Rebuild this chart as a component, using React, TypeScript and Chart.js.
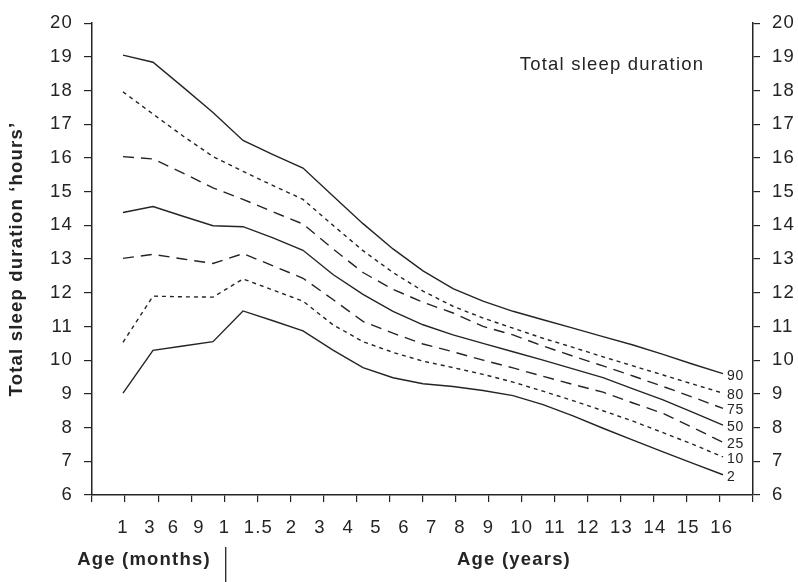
import React, { useEffect, useRef } from 'react';
import { Chart, registerables } from 'chart.js';

Chart.register(...registerables);

// Age categories (one data point per category)
const ageCategories = [
  '1 month', '3 months', '6 months', '9 months', '1 year', '1.5 years', '2 years',
  '3 years', '4 years', '5 years', '6 years', '7 years', '8 years', '9 years',
  '10 years', '11 years', '12 years', '13 years', '14 years', '15 years', '16 years',
];

// Labels printed under the age axis
const tickLabels = [
  '1', '3', '6', '9', '1', '1.5', '2', '3', '4', '5', '6', '7', '8', '9',
  '10', '11', '12', '13', '14', '15', '16',
];

const hourTicks = [6, 7, 8, 9, 10, 11, 12, 13, 14, 15, 16, 17, 18, 19, 20];

// Total sleep duration percentiles (hours)
const p90 = [19.05, 18.84, 18.1, 17.35, 16.52, 16.1, 15.7, 14.87, 14.05, 13.3, 12.65, 12.12, 11.75, 11.45, 11.2, 10.95, 10.7, 10.45, 10.17, 9.88, 9.6];
const p80 = [17.96, 17.3, 16.65, 16.04, 15.6, 15.18, 14.77, 14.0, 13.25, 12.6, 12.05, 11.6, 11.25, 10.95, 10.65, 10.38, 10.1, 9.83, 9.56, 9.29, 9.02];
const p75 = [16.04, 15.97, 15.55, 15.11, 14.77, 14.4, 14.04, 13.3, 12.6, 12.1, 11.72, 11.4, 11.0, 10.75, 10.42, 10.12, 9.83, 9.53, 9.22, 8.9, 8.57];
const p50 = [14.38, 14.56, 14.27, 13.99, 13.96, 13.63, 13.26, 12.54, 11.95, 11.45, 11.05, 10.75, 10.5, 10.25, 10.0, 9.74, 9.48, 9.15, 8.82, 8.45, 8.07];
const p25 = [13.02, 13.14, 13.0, 12.87, 13.16, 12.8, 12.43, 11.8, 11.15, 10.8, 10.48, 10.25, 10.0, 9.77, 9.52, 9.28, 9.05, 8.73, 8.42, 8.0, 7.56];
const p10 = [10.53, 11.9, 11.88, 11.87, 12.41, 12.08, 11.75, 11.05, 10.55, 10.23, 9.97, 9.78, 9.58, 9.35, 9.08, 8.8, 8.5, 8.19, 7.85, 7.5, 7.13];
const p2 = [9.02, 10.29, 10.42, 10.55, 11.46, 11.17, 10.87, 10.3, 9.78, 9.48, 9.3, 9.22, 9.1, 8.95, 8.68, 8.35, 7.98, 7.63, 7.28, 6.94, 6.6];

const percentileNames = ['90', '80', '75', '50', '25', '10', '2'];
const percentileSeries = [p90, p80, p75, p50, p25, p10, p2];

// ---- layout / style ----
const INK = '#242424';
const FONT = "'Liberation Sans', Arial, Helvetica, sans-serif";
const AXIS_MIN = -31 / 30;
const AXIS_MAX = 21;
const TICK_MARK_COUNT = 21;
const tickMarkSlots = Array.from(
  { length: TICK_MARK_COUNT },
  (_, k) => AXIS_MIN + (k * (AXIS_MAX - AXIS_MIN)) / (TICK_MARK_COUNT - 1)
);
// where each printed age label sits along the axis (in category units)
const labelSlots = [0, 0.9, 1.68, 2.53, 3.38, 4.51, 5.62, 6.57, 7.51, 8.43, 9.37, 10.29, 11.23, 12.18, 13.29, 14.4, 15.51, 16.62, 17.73, 18.84, 19.96];
const lineDashes = [[], [4, 4], [11, 7], [], [11, 7], [4, 4], []];

const annotationPlugin = {
  id: 'sleepAnnotations',
  beforeDraw(chart: any) {
    (chart.ctx as any).letterSpacing = '1.2px';
  },
  afterDraw(chart: any) {
    const { ctx, chartArea } = chart;
    ctx.save();
    ctx.fillStyle = INK;
    ctx.strokeStyle = INK;

    // percentile names at the end of each curve
    (ctx as any).letterSpacing = '0.6px';
    ctx.font = `14px ${FONT}`;
    ctx.textAlign = 'left';
    ctx.textBaseline = 'middle';
    chart.data.datasets.forEach((_: any, i: number) => {
      const meta = chart.getDatasetMeta(i);
      const last = meta.data[meta.data.length - 1];
      ctx.fillText(percentileNames[i], last.x + 4, last.y + 2);
    });

    // chart heading inside the plot
    (ctx as any).letterSpacing = '1.2px';
    ctx.font = `18.5px ${FONT}`;
    ctx.textAlign = 'center';
    ctx.fillText('Total sleep duration', chartArea.right - 141, chartArea.top + 42);

    // age unit captions and divider
    const xScale = chart.scales.x;
    const divider = xScale.getPixelForValue(tickMarkSlots[4]) + 1.5;
    ctx.font = `bold 18.5px ${FONT}`;
    ctx.fillText('Age (months)', chartArea.left + 52, chartArea.bottom + 65);
    ctx.fillText('Age (years)', chartArea.left + 422, chartArea.bottom + 65);
    ctx.lineWidth = 1.3;
    ctx.beginPath();
    ctx.moveTo(divider, chartArea.bottom + 52);
    ctx.lineTo(divider, chart.height);
    ctx.stroke();
    ctx.restore();
    (ctx as any).letterSpacing = '0px';
  },
};

export default function App() {
  const canvasRef = useRef<HTMLCanvasElement | null>(null);

  useEffect(() => {
    if (!canvasRef.current) return;

    const datasets = percentileSeries.map((series, i) => ({
      label: `P${percentileNames[i]}`,
      data: series.map((v, idx) => ({ x: idx, y: v, age: ageCategories[idx] })),
      borderColor: INK,
      borderWidth: 1.4,
      borderDash: lineDashes[i],
      borderCapStyle: 'butt' as const,
      pointRadius: 0,
      fill: false,
      tension: 0,
      xAxisID: 'x',
      yAxisID: 'y',
    }));

    const tickFont = { family: FONT, size: 18.5 };
    const yAxisBase = {
      type: 'linear' as const,
      min: 6,
      max: 20,
      afterBuildTicks: (s: any) => {
        s.ticks = hourTicks.map((v) => ({ value: v }));
      },
      grid: { display: true, drawOnChartArea: false, drawTicks: true, color: INK, lineWidth: 1.2 },
      border: { display: true, color: INK, width: 1.5 },
    };

    const chart = new Chart(canvasRef.current, {
      type: 'line',
      data: { datasets },
      plugins: [annotationPlugin],
      options: {
        responsive: false,
        animation: false,
        events: [],
        layout: { padding: { top: 16, left: 0, right: 0, bottom: 0 } },
        plugins: { legend: { display: false }, tooltip: { enabled: false } },
        scales: {
          x: {
            type: 'linear',
            position: 'bottom',
            weight: 0,
            min: AXIS_MIN,
            max: AXIS_MAX,
            afterBuildTicks: (s: any) => {
              s.ticks = tickMarkSlots.map((v) => ({ value: v }));
            },
            ticks: { display: false },
            grid: { display: true, drawOnChartArea: false, drawTicks: true, tickLength: 7, color: INK, lineWidth: 1.2 },
            border: { display: true, color: INK, width: 1.5 },
            afterFit: (s: any) => {
              s.height = 7;
            },
          },
          xLabels: {
            type: 'linear',
            position: 'bottom',
            weight: 1,
            min: AXIS_MIN,
            max: AXIS_MAX,
            afterBuildTicks: (s: any) => {
              s.ticks = labelSlots.map((v) => ({ value: v }));
            },
            ticks: {
              autoSkip: false,
              maxRotation: 0,
              minRotation: 0,
              padding: 15,
              font: tickFont,
              color: INK,
              callback: (_v: any, i: number) => tickLabels[i],
            },
            grid: { display: false, drawTicks: false },
            border: { display: false },
            afterFit: (s: any) => {
              s.height = 80;
            },
          },
          y: {
            ...yAxisBase,
            position: 'left',
            ticks: { padding: 11, font: tickFont, color: INK },
            grid: { ...yAxisBase.grid, tickLength: 8 },
            title: {
              display: true,
              text: 'Total sleep duration ‘hours’',
              color: INK,
              font: { family: FONT, size: 18.5, weight: 'bold' },
              padding: { top: 6, bottom: 0 },
            },
            afterFit: (s: any) => {
              s.width = 92;
            },
          },
          y2: {
            ...yAxisBase,
            position: 'right',
            ticks: { padding: 12, font: tickFont, color: INK },
            grid: { ...yAxisBase.grid, tickLength: 7 },
            afterFit: (s: any) => {
              s.width = 45;
            },
          },
        },
      },
    });

    return () => chart.destroy();
  }, []);

  return (
    <div style={{ position: 'absolute', left: 0, top: 0, width: 798, height: 582, background: '#fff' }}>
      <canvas ref={canvasRef} width={798} height={582} />
    </div>
  );
}
